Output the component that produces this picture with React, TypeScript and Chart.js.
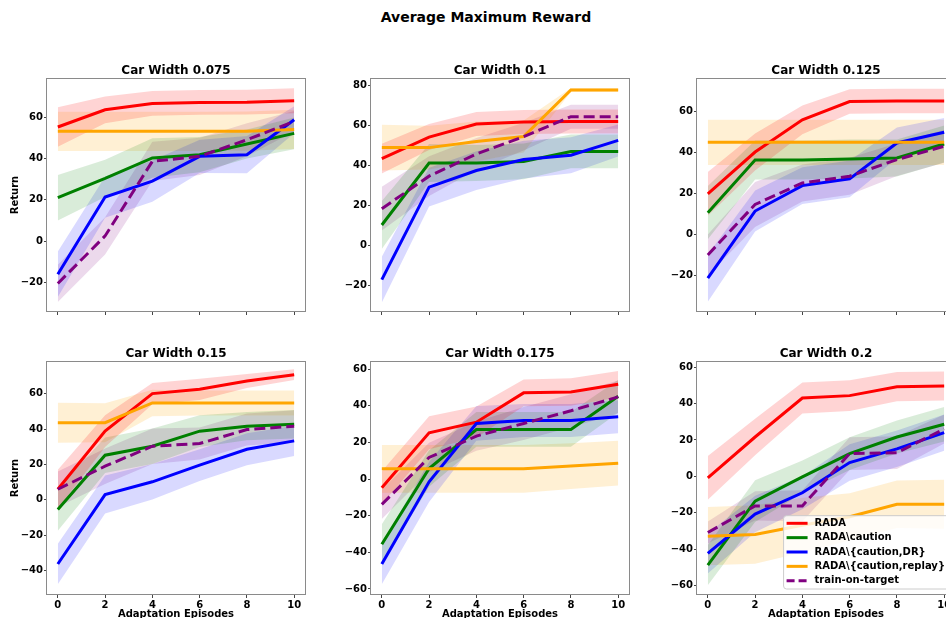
import React, { useEffect, useRef } from "react";
import { Chart, registerables } from "chart.js";

Chart.register(...registerables);

// ---------- data ----------
const episodes = [0, 2, 4, 6, 8, 10];
const xTicks = [0, 2, 4, 6, 8, 10];

const seriesLabels = [
  "RADA",
  "RADA\\caution",
  "RADA\\{caution,DR}",
  "RADA\\{caution,replay}",
  "train-on-target",
];
const seriesColors = ["#ff0000", "#008000", "#0000ff", "#ffa500", "#800080"];
const seriesBands = [
  "rgba(255,0,0,0.17)",
  "rgba(0,128,0,0.15)",
  "rgba(0,0,255,0.15)",
  "rgba(255,165,0,0.17)",
  "rgba(128,0,128,0.15)",
];

const panelTitles = [
  "Car Width 0.075",
  "Car Width 0.1",
  "Car Width 0.125",
  "Car Width 0.15",
  "Car Width 0.175",
  "Car Width 0.2",
];

// means: rows = RADA, caution, DR, replay, train-on-target
const mean075 = [
  [55.2, 63.5, 66.6, 67.1, 67.2, 67.9],
  [21, 30.3, 40.2, 41.8, 47, 52.1],
  [-16, 21.3, 29, 41, 41.8, 58.7],
  [53.1, 53.1, 53.1, 53.1, 53.2, 54],
  [-20.5, 2.5, 38.6, 41, 49, 57.9],
];
const sd075 = [
  [9.5, 6.5, 6, 6, 6, 6],
  [11, 9, 9.6, 8.5, 7, 7.7],
  [11, 10, 10, 8, 9, 6.5],
  [9.5, 9.5, 9.5, 9.5, 9.5, 9.5],
  [9, 9, 9.5, 9, 8, 5],
];

const mean100 = [
  [43.4, 54.2, 60.7, 61.7, 62, 62],
  [10.1, 41.2, 41.2, 42, 47, 47],
  [-17.3, 29.1, 37.4, 42.9, 45.1, 52.5],
  [48.9, 48.9, 52, 54.5, 77.8, 77.8],
  [18.3, 34.6, 45.7, 54.4, 64.4, 64.4],
];
const sd100 = [
  [7.5, 6.5, 6, 6, 6, 6],
  [12, 9.5, 9, 9, 8.5, 8.5],
  [11.5, 9.7, 9.7, 9.5, 9, 8],
  [11.5, 11, 10, 8, 1, 1],
  [11, 10, 8, 7, 6, 6],
];

const mean125 = [
  [20, 40.4, 56.1, 65, 65.3, 65.3],
  [10.8, 36.5, 36.5, 37, 37.5, 44.3],
  [-21.1, 11.6, 24, 27.3, 44.8, 50],
  [45.1, 45.1, 45.1, 45.1, 45.1, 45.1],
  [-9.8, 14.8, 25.3, 28.6, 36.7, 43.2],
];
const sd125 = [
  [10.7, 9, 7, 6, 6, 6],
  [13, 9.5, 9.5, 9.5, 9, 9],
  [11.5, 10, 9, 9, 7.5, 7],
  [11, 11, 11, 11, 11, 11],
  [10, 11, 9, 9, 8, 8],
];

const mean150 = [
  [6, 38.8, 60, 62.4, 67.1, 70.7],
  [-5.4, 25.2, 30.3, 38.8, 41.6, 42.7],
  [-36.2, 3, 10.2, 19.6, 28.6, 33.3],
  [43.6, 43.6, 54.7, 54.7, 54.7, 54.7],
  [6, 19, 30.3, 31.8, 39.7, 41.6],
];
const sd150 = [
  [11, 9, 6, 6, 4, 3],
  [12, 10, 10, 9, 8, 8],
  [11.5, 10.7, 10, 9, 9, 8.6],
  [11.3, 11, 7.5, 7, 7, 7],
  [10, 10, 10, 9, 9, 9],
];

const mean175 = [
  [-4.7, 25.3, 31.1, 47.1, 47.6, 51.8],
  [-35.6, 5.8, 27.1, 27.1, 27.1, 45.3],
  [-46.4, -1.5, 30.4, 32, 32, 34],
  [5.6, 5.6, 5.6, 5.6, 7.1, 8.7],
  [-13.8, 11.8, 23.5, 30.4, 37.3, 44.9],
];
const sd175 = [
  [9, 9, 8.5, 7.3, 7.5, 7.3],
  [11, 10, 9.5, 9.5, 9.5, 9],
  [11, 11, 9.5, 9, 9, 9],
  [13, 13, 13, 13, 12.5, 12.2],
  [8, 8, 8, 9, 9, 9],
];

const mean200 = [
  [-0.8, 21.6, 43, 44.3, 49.2, 49.6],
  [-48.7, -13.6, -0.3, 12.5, 21.6, 28.6],
  [-42.3, -20.7, -9, 7.6, 15.1, 24],
  [-32.8, -31.9, -26.8, -22.2, -15.3, -15.3],
  [-30.8, -16.2, -16.2, 12.5, 13, 26],
];
const sd200 = [
  [12, 10, 8.5, 8.5, 8, 8],
  [11, 11.5, 9, 9, 9, 9.5],
  [11, 10, 9, 10, 10, 10],
  [16, 16, 15, 13, 13, 13.5],
  [6, 8, 8.6, 9, 9, 8],
];

const yTicks075 = [-20, 0, 20, 40, 60];
const yTicks100 = [-20, 0, 20, 40, 60, 80];
const yTicks125 = [-20, 0, 20, 40, 60];
const yTicks150 = [-40, -20, 0, 20, 40, 60];
const yTicks175 = [-60, -40, -20, 0, 20, 40, 60];
const yTicks200 = [-60, -40, -20, 0, 20, 40, 60];

const yRanges = [
  [-34.3, 78.9],
  [-33.5, 83.8],
  [-37.65, 76.5],
  [-53.7, 78.4],
  [-63.3, 64.5],
  [-65.1, 63.3],
];

// ---------- layout ----------
const FONT = "'DejaVu Sans', sans-serif";
const PLOT_W = 260;
const Y_AXIS_W = 46;
const TITLE_H = 19;
const colLefts = [46, 370, 696];
const rowTops = [78, 361];
const rowPlotH = [235, 234];
const rowXAxisH = [6, 26];

type PanelSpec = {
  title: string;
  means: number[][];
  sds: number[][];
  yTicks: number[];
  yRange: number[];
  col: number;
  row: number;
  legend: boolean;
};

const panels: PanelSpec[] = [
  { title: panelTitles[0], means: mean075, sds: sd075, yTicks: yTicks075, yRange: yRanges[0], col: 0, row: 0, legend: false },
  { title: panelTitles[1], means: mean100, sds: sd100, yTicks: yTicks100, yRange: yRanges[1], col: 1, row: 0, legend: false },
  { title: panelTitles[2], means: mean125, sds: sd125, yTicks: yTicks125, yRange: yRanges[2], col: 2, row: 0, legend: false },
  { title: panelTitles[3], means: mean150, sds: sd150, yTicks: yTicks150, yRange: yRanges[3], col: 0, row: 1, legend: false },
  { title: panelTitles[4], means: mean175, sds: sd175, yTicks: yTicks175, yRange: yRanges[4], col: 1, row: 1, legend: false },
  { title: panelTitles[5], means: mean200, sds: sd200, yTicks: yTicks200, yRange: yRanges[5], col: 2, row: 1, legend: true },
];

const fmt = (v: number) => (v < 0 ? "\u2212" + Math.abs(v) : String(v));

const boxPlugin = {
  id: "spineBox",
  afterDatasetsDraw(chart: any) {
    const { ctx, chartArea } = chart;
    ctx.save();
    ctx.strokeStyle = "#8a8a8a";
    ctx.lineWidth = 1;
    ctx.strokeRect(
      Math.round(chartArea.left) + 0.5,
      Math.round(chartArea.top) + 0.5,
      Math.round(chartArea.right - chartArea.left) - 1,
      Math.round(chartArea.bottom - chartArea.top) - 1
    );
    ctx.restore();
  },
};

const legendPlugin = {
  id: "innerLegend",
  afterDraw(chart: any) {
    const { ctx, chartArea } = chart;
    ctx.save();
    ctx.font = `bold 10px ${FONT}`;
    const widths = seriesLabels.map((l) => ctx.measureText(l).width);
    const maxW = Math.max(...widths);
    const rowH = 14.35;
    const w = 3 + 21 + 7 + maxW + 5;
    const h = 7.6 + rowH * 4 + 8.3;
    const x0 = chartArea.right - 6 - w;
    const y0 = chartArea.bottom - 6 - h;
    ctx.beginPath();
    ctx.roundRect(x0, y0, w, h, 3);
    ctx.fillStyle = "rgba(255,255,255,0.8)";
    ctx.fill();
    ctx.strokeStyle = "#cccccc";
    ctx.lineWidth = 1;
    ctx.stroke();
    seriesLabels.forEach((label, i) => {
      const cy = y0 + 7.6 + i * rowH;
      ctx.beginPath();
      ctx.strokeStyle = seriesColors[i];
      ctx.lineWidth = 3;
      ctx.setLineDash(i === 4 ? [8, 4] : []);
      ctx.moveTo(x0 + 3, cy);
      ctx.lineTo(x0 + 24, cy);
      ctx.stroke();
      ctx.setLineDash([]);
      ctx.fillStyle = "#000";
      ctx.textBaseline = "middle";
      ctx.textAlign = "left";
      ctx.fillText(label, x0 + 31, cy);
    });
    ctx.restore();
  },
};

function PanelChart({ p }: { p: PanelSpec }) {
  const ref = useRef<HTMLCanvasElement>(null);
  const plotH = rowPlotH[p.row];
  const xAxisH = rowXAxisH[p.row];
  const width = Y_AXIS_W + PLOT_W;
  const height = TITLE_H + plotH + xAxisH;
  const left = colLefts[p.col] - Y_AXIS_W;
  const top = rowTops[p.row] - TITLE_H;
  const showY = p.col === 0;
  const showX = p.row === 1;

  useEffect(() => {
    const datasets: any[] = [];
    p.means.forEach((m, s) => {
      const sd = p.sds[s];
      datasets.push({
        label: seriesLabels[s] + " lo",
        data: episodes.map((x, i) => ({ x, y: m[i] - sd[i] })),
        borderWidth: 0,
        borderColor: "transparent",
        pointRadius: 0,
        fill: false,
        order: 20 + s,
      });
      datasets.push({
        label: seriesLabels[s] + " hi",
        data: episodes.map((x, i) => ({ x, y: m[i] + sd[i] })),
        borderWidth: 0,
        borderColor: "transparent",
        backgroundColor: seriesBands[s],
        pointRadius: 0,
        fill: "-1",
        order: 20 + s,
      });
    });
    p.means.forEach((m, s) => {
      datasets.push({
        label: seriesLabels[s],
        data: episodes.map((x, i) => ({ x, y: m[i] })),
        borderColor: seriesColors[s],
        borderWidth: 3,
        borderDash: s === 4 ? [11, 5] : [],
        pointRadius: 0,
        fill: false,
        tension: 0,
        order: 4 - s,
      });
    });

    const chart = new Chart(ref.current as HTMLCanvasElement, {
      type: "line",
      data: { datasets },
      options: {
        animation: false,
        responsive: false,
        devicePixelRatio: 1,
        layout: { padding: 0, autoPadding: false },
        plugins: {
          legend: { display: false },
          tooltip: { enabled: false },
          filler: { propagate: false, drawTime: "beforeDatasetsDraw" },
          title: {
            display: true,
            fullSize: false,
            text: p.title,
            color: "#000",
            font: { family: FONT, size: 12, weight: "bold" },
            padding: { top: 4.6, bottom: 0 },
          },
        },
        scales: {
          x: {
            type: "linear",
            min: -0.5,
            max: 10.5,
            afterBuildTicks: (scale: any) => {
              scale.ticks = xTicks.map((v) => ({ value: v }));
            },
            afterFit: (scale: any) => {
              scale.height = xAxisH;
            },
            ticks: {
              display: showX,
              color: "#000",
              padding: 1,
              font: { family: FONT, size: 10, weight: "bold" },
              maxRotation: 0,
              callback: (v: any) => fmt(Number(v)),
            },
            grid: { drawOnChartArea: false, tickLength: 3, tickColor: "#444" },
            border: { display: false },
            title: {
              display: showX,
              text: "Adaptation Episodes",
              color: "#000",
              font: { family: FONT, size: 10, weight: "bold" },
              padding: { top: 0, bottom: 1 },
            },
          },
          y: {
            type: "linear",
            min: p.yRange[0],
            max: p.yRange[1],
            afterBuildTicks: (scale: any) => {
              scale.ticks = p.yTicks.map((v) => ({ value: v }));
            },
            afterFit: (scale: any) => {
              scale.width = Y_AXIS_W;
            },
            ticks: {
              color: "#000",
              padding: 1,
              font: { family: FONT, size: 10, weight: "bold" },
              callback: (v: any) => fmt(Number(v)),
            },
            grid: { drawOnChartArea: false, tickLength: 2, tickColor: "#444" },
            border: { display: false },
            title: {
              display: showY,
              text: "Return",
              color: "#000",
              font: { family: FONT, size: 10, weight: "bold" },
              padding: { top: 9, bottom: 0 },
            },
          },
        },
      } as any,
      plugins: p.legend ? [boxPlugin, legendPlugin] : [boxPlugin],
    });
    return () => chart.destroy();
  }, []);

  return (
    <canvas
      ref={ref}
      width={width}
      height={height}
      style={{ position: "absolute", left, top, width, height }}
    />
  );
}

export default function App() {
  return (
    <div
      style={{
        position: "absolute",
        left: 0,
        top: 0,
        width: 946,
        height: 618,
        overflow: "hidden",
        background: "#fff",
      }}
    >
      <div
        style={{
          position: "absolute",
          left: 0,
          top: 9,
          width: 972,
          textAlign: "center",
          fontFamily: FONT,
          fontWeight: "bold",
          fontSize: 14,
          lineHeight: "16px",
          color: "#000",
        }}
      >
        Average Maximum Reward
      </div>
      {panels.map((p, i) => (
        <PanelChart key={i} p={p} />
      ))}
    </div>
  );
}
